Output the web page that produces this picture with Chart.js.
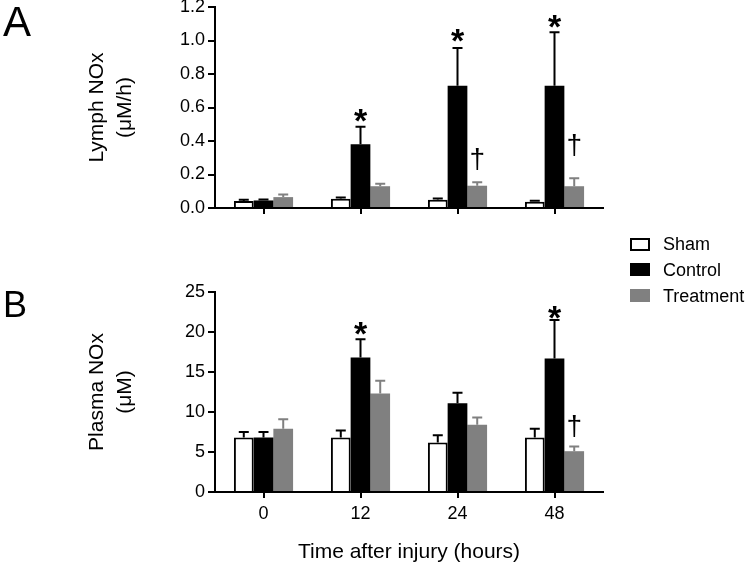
<!DOCTYPE html>
<html>
<head>
<meta charset="utf-8">
<script src="https://cdn.jsdelivr.net/npm/chart.js@4.4.0/dist/chart.umd.min.js"></script>
<style>
  body { margin: 0; background: #fff; }
  #wrap { position: relative; width: 750px; height: 567px; overflow: hidden;
          font-family: "Liberation Sans", Arial, sans-serif; color: #000; }
  canvas { position: absolute; left: 0; }
  #lymph { top: -10px; }
  #plasma { top: 272px; }
  .panel { position: absolute; left: 3px; line-height: 1; }
  .leg-box { position: absolute; left: 630px; width: 20px; height: 13px; box-sizing: border-box; }
  .leg-text { position: absolute; left: 663px; font-size: 18px; line-height: 1; }
</style>
</head>
<body>
<div id="wrap">
  <canvas id="lymph" width="750" height="240"></canvas>
  <canvas id="plasma" width="750" height="295"></canvas>

  <div class="panel" style="top:1px; font-size:42px;">A</div>
  <div class="panel" style="top:287px; font-size:36px;">B</div>

  <div class="leg-box" style="top:238px; background:#fff; border:2px solid #000;"></div>
  <div class="leg-text" style="top:235px;">Sham</div>
  <div class="leg-box" style="top:263px; background:#000;"></div>
  <div class="leg-text" style="top:261px;">Control</div>
  <div class="leg-box" style="top:289px; background:#808080;"></div>
  <div class="leg-text" style="top:287px;">Treatment</div>
</div>

<script>
"use strict";

// ---- data ----
const hours = ['0', '12', '24', '48'];

// panel A : lymph NOx (uM/h), mean and SEM
const lymphSham = [0.042, 0.055, 0.050, 0.038];
const lymphShamSem = [0.008, 0.007, 0.006, 0.006];
const lymphControl = [0.045, 0.38, 0.73, 0.73];
const lymphControlSem = [0.006, 0.105, 0.225, 0.32];
const lymphTreat = [0.065, 0.13, 0.133, 0.13];
const lymphTreatSem = [0.015, 0.015, 0.02, 0.048];
const lymphStars = [null, 0.57, 1.05, 1.13];     // * over control
const lymphDaggers = [null, null, 0.29, 0.37];   // dagger over treatment
const lymphTicks = [0, 1.2, 0.2];                // min, max, step

// panel B : plasma NOx (uM)
const plasmaSham = [6.8, 6.8, 6.2, 6.8];
const plasmaShamSem = [0.7, 0.9, 0.9, 1.1];
const plasmaControl = [6.8, 16.8, 11.1, 16.7];
const plasmaControlSem = [0.7, 2.3, 1.3, 4.8];
const plasmaTreat = [7.9, 12.3, 8.4, 5.1];
const plasmaTreatSem = [1.2, 1.6, 0.9, 0.6];
const plasmaStars = [null, 20.8, null, 22.9];
const plasmaDaggers = [null, null, null, 8.1];
const plasmaTicks = [0, 25, 5];

const FONT = '"Liberation Sans", Arial, sans-serif';
const GREY = '#808080';

// error bars (upper only) + significance marks
const errorBars = {
  id: 'errorBars',
  afterDatasetsDraw(chart) {
    const ctx = chart.ctx;
    const y = chart.scales.y;
    chart.data.datasets.forEach((ds, i) => {
      const meta = chart.getDatasetMeta(i);
      meta.data.forEach((bar, j) => {
        const top = y.getPixelForValue(ds.data[j] + ds.sem[j]);
        ctx.save();
        ctx.strokeStyle = ds.errColor;
        ctx.lineWidth = 2;
        ctx.beginPath();
        ctx.moveTo(bar.x, bar.y);
        ctx.lineTo(bar.x, top);
        ctx.moveTo(bar.x - 5, top);
        ctx.lineTo(bar.x + 5, top);
        ctx.stroke();
        ctx.restore();

        if (ds.marks && ds.marks[j] != null) {
          const yc = y.getPixelForValue(ds.marks[j]);
          ctx.save();
          ctx.fillStyle = '#000';
          ctx.textAlign = 'center';
          ctx.textBaseline = 'alphabetic';
          if (ds.markChar === '*') {
            ctx.font = 'bold 34px ' + FONT;
            ctx.fillText('*', bar.x, yc + 0.58 * 34);
          } else {
            ctx.font = '28px ' + FONT;
            ctx.fillText('\u2020', bar.x, yc + 0.29 * 28);
          }
          ctx.restore();
        }
      });
    });
  }
};

function makePanel(id, sets, ticks, yTitle, opts) {
  const ctx = document.getElementById(id);
  const datasets = [
    { label: 'Sham', data: sets[0], sem: sets[1], backgroundColor: '#fff',
      borderColor: '#000', borderWidth: 2, errColor: '#000' },
    { label: 'Control', data: sets[2], sem: sets[3], backgroundColor: '#000',
      borderWidth: 0, errColor: '#000', marks: sets[6], markChar: '*' },
    { label: 'Treatment', data: sets[4], sem: sets[5], backgroundColor: GREY,
      borderWidth: 0, errColor: GREY, marks: sets[7], markChar: 'dagger' }
  ];
  return new Chart(ctx, {
    type: 'bar',
    data: { labels: hours, datasets: datasets },
    plugins: [errorBars],
    options: {
      responsive: false,
      animation: false,
      categoryPercentage: 0.61,
      barPercentage: 1.0,
      layout: { padding: { top: opts.padTop, bottom: opts.padBottom, left: 0, right: 147 } },
      plugins: { legend: { display: false }, tooltip: { enabled: false } },
      scales: {
        x: {
          grid: { display: true, drawOnChartArea: false, offset: false, tickLength: 6,
                  lineWidth: 2, color: '#000' },
          border: { display: true, color: '#000', width: 2 },
          ticks: { display: opts.xLabels, color: '#000', padding: 5,
                   font: { family: FONT, size: 18 } },
          title: { display: !!opts.xTitle, text: opts.xTitle, color: '#000',
                   font: { family: FONT, size: 21, lineHeight: 1.333 },
                   padding: { top: 0, bottom: 1 } },
          afterFit: (s) => { s.height = opts.xHeight; }
        },
        y: {
          min: ticks[0], max: ticks[1],
          grid: { display: true, drawOnChartArea: false, tickLength: 7,
                  lineWidth: 2, color: '#000' },
          border: { display: true, color: '#000', width: 2 },
          ticks: { stepSize: ticks[2], color: '#000', padding: 3,
                   font: { family: FONT, size: 18 },
                   callback: (v) => opts.decimals ? v.toFixed(1) : v },
          title: { display: true, text: yTitle, color: '#000',
                   font: { family: FONT, size: 21, lineHeight: 1.333 },
                   padding: { top: 83, bottom: 0 } },
          afterFit: (s) => { s.width = 215; }
        }
      }
    }
  });
}

makePanel('lymph',
  [lymphSham, lymphShamSem, lymphControl, lymphControlSem, lymphTreat, lymphTreatSem, lymphStars, lymphDaggers],
  lymphTicks, ['Lymph NOx', '(\u03bcM/h)'],
  { padTop: 17, padBottom: 12, xHeight: 10, xLabels: false, decimals: true });

makePanel('plasma',
  [plasmaSham, plasmaShamSem, plasmaControl, plasmaControlSem, plasmaTreat, plasmaTreatSem, plasmaStars, plasmaDaggers],
  plasmaTicks, ['Plasma NOx', '(\u03bcM)'],
  { padTop: 20, padBottom: 0, xHeight: 75, xLabels: true, xTitle: 'Time after injury (hours)', decimals: false });
</script>
</body>
</html>
